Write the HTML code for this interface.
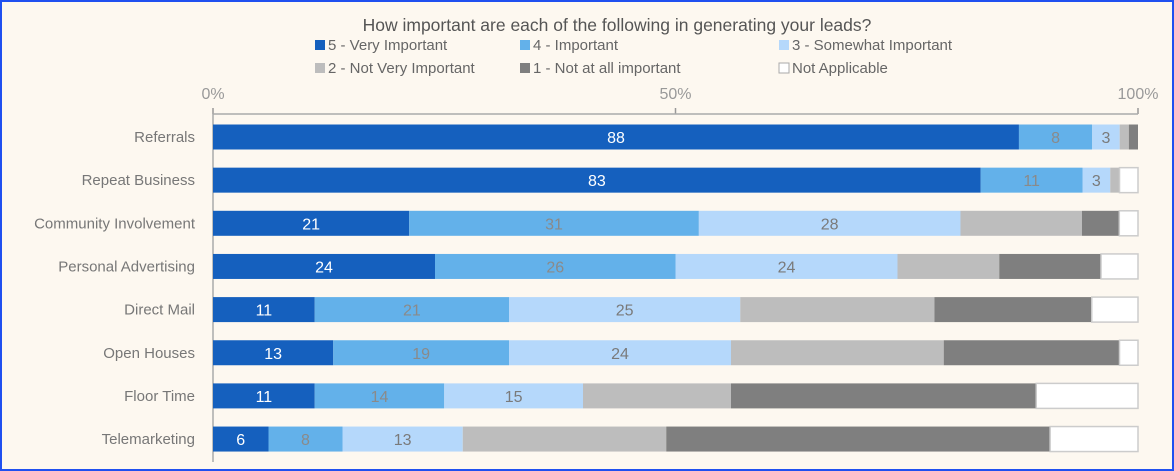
<!DOCTYPE html>
<html><head><meta charset="utf-8"><style>
html,body{margin:0;padding:0}
body{width:1174px;height:471px;overflow:hidden;background:#fdf8f0;font-family:"Liberation Sans",sans-serif}
#frame{position:absolute;left:0;top:0;width:1170px;height:467px;border:2px solid #2050f0;background:#fdf8f0}
</style></head><body>
<div id="frame"></div>
<svg id="chart" width="1174" height="471" style="position:absolute;left:0;top:0"></svg>
<script>
const categories=["Referrals","Repeat Business","Community Involvement","Personal Advertising","Direct Mail","Open Houses","Floor Time","Telemarketing"];
const seriesNames=["5 - Very Important","4 - Important","3 - Somewhat Important","2 - Not Very Important","1 - Not at all important","Not Applicable"];
const s5=[88,83,21,24,11,13,11,6];
const s4=[8,11,31,26,21,19,14,8];
const s3=[3,3,28,24,25,24,15,13];
const s2=[1,1,13,11,21,23,16,22];
const s1=[1,0,4,11,17,19,33,41.5];
const sNA=[0,2,2,4,5,2,11,9.5];
const tickVals=[0,50,100];
const tickLabels=["0%","50%","100%"];
const colors=["#1560be","#63b1ea","#b5d8fb","#bdbdbd","#7f7f7f","#ffffff"];
const labelColors=["#ffffff","#8a8a8a","#7a7a7a"];
const NS="http://www.w3.org/2000/svg";
const svg=document.getElementById('chart');
const x0=213,x1=1138;
const xs=v=>x0+(x1-x0)*v/100;
const yc=i=>137+i*43.15;
const bh=25;
function mk(t,a){const e=document.createElementNS(NS,t);for(const k in a)e.setAttribute(k,a[k]);svg.appendChild(e);return e;}
let t=mk('text',{x:617,y:31,'text-anchor':'middle','font-size':17.5,fill:'#555'});

t.textContent="How important are each of the following in generating your leads?";
const legX=[315,520,779],legY=[50,73];
seriesNames.forEach((n,i)=>{
 const lx=legX[i%3],ly=legY[Math.floor(i/3)];
 const g=mk('g',{});
 
 const r=document.createElementNS(NS,'rect');
 r.setAttribute('x',lx);r.setAttribute('y',ly-10);r.setAttribute('width',10);r.setAttribute('height',10);
 r.setAttribute('fill',colors[i]);if(i==5){r.setAttribute('stroke','#aaa');r.setAttribute('stroke-width',1);}
 g.appendChild(r);
 const tx=document.createElementNS(NS,'text');
 tx.setAttribute('x',lx+13);tx.setAttribute('y',ly);tx.setAttribute('font-size',15);tx.setAttribute('fill','#666');
 tx.textContent=n;g.appendChild(tx);
});
tickVals.forEach((v,i)=>{
 const tx=mk('text',{x:xs(v),y:99,'text-anchor':'middle','font-size':16,fill:'#999'});
 
 tx.textContent=tickLabels[i];
 const tk=mk('line',{x1:xs(v),x2:xs(v),y1:108,y2:114,stroke:'#999','stroke-width':1.5});
 
});
const ax=mk('line',{x1:x0,x2:x1,y1:114,y2:114,stroke:'#aaa','stroke-width':1.5});

const ay=mk('line',{x1:x0,x2:x0,y1:114,y2:462,stroke:'#aaa','stroke-width':1.5});

const series=[s5,s4,s3,s2,s1,sNA];
categories.forEach((c,i)=>{
 const cl=mk('text',{x:195,y:yc(i)+5,'text-anchor':'end','font-size':15,fill:'#777'});
 
 cl.textContent=c;
 let total=0;series.forEach(s=>{total+=Math.max(0,s[i]);});
 const k=total>0?100/total:1;
 let acc=0;
 series.forEach((s,j)=>{
  const v=s[i];if(v<=0){return;}
  const w=v*k;
  const r=mk('rect',{x:xs(acc),y:yc(i)-bh/2,width:xs(acc+w)-xs(acc),height:bh,fill:colors[j]});
  if(j==5){r.setAttribute('stroke','#ccc');r.setAttribute('stroke-width',1.5);}
  
  if(j<3){
   const lb=mk('text',{x:(xs(acc)+xs(acc+w))/2,y:yc(i)+6,'text-anchor':'middle','font-size':16,fill:labelColors[j]});
   
   lb.textContent=v;
  }
  acc+=w;
 });
});
</script>
</body></html>
